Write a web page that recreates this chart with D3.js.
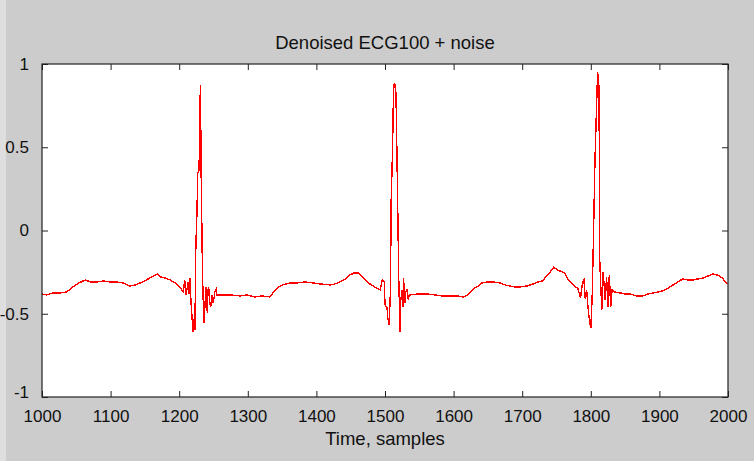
<!DOCTYPE html>
<html>
<head>
<meta charset="utf-8">
<script src="https://cdn.jsdelivr.net/npm/d3@7"></script>
<style>
  html, body { margin: 0; padding: 0; background: #cccccc; }
  svg { display: block; }
  text { font-family: "Liberation Sans", Arial, sans-serif; fill: #111; }
</style>
</head>
<body>
<svg id="chart" width="754" height="461"></svg>
<script>
const titleText = "Denoised ECG100 + noise";
const xLabelText = "Time, samples";
const xTicks = [1000, 1100, 1200, 1300, 1400, 1500, 1600, 1700, 1800, 1900, 2000];
const yTicks = [-1, -0.5, 0, 0.5, 1];
const yTickLabels = ["-1", "-0.5", "0", "0.5", "1"];
const xDomain = [1000, 2000];
const yDomain = [-1, 1];

// sample index
const samples = [
  1000,1007,1016,1026,1036,1045,1054,1063,1071,1080,1090,1099,1109,1118,1128,1136,1143,1150,1157,1163,
  1168,1173,1179,1187,1194,1201,1206,1208,1210,1213,1214,1216,1217,1219,1220,1222,1223,1224,1226,1227,
  1229,1230,1231,1232,1234,1236,1238,1239,1241,1242,1243,1245,1246,1248,1249,1251,1252,1254,1255,1259,
  1274,1289,1299,1310,1321,1332,1340,1345,1351,1362,1372,1383,1395,1405,1420,1427,1434,1442,1449,1455,
  1461,1465,1471,1478,1485,1493,1496,1499,1500,1503,1504,1506,1508,1509,1511,1512,1513,1514,1516,1518,
  1520,1522,1523,1525,1526,1527,1529,1530,1532,1534,1535,1536,1548,1561,1573,1583,1595,1605,1614,1620,
  1624,1631,1636,1641,1649,1657,1668,1675,1682,1690,1697,1707,1716,1723,1730,1735,1741,1746,1751,1755,
  1762,1767,1770,1777,1781,1785,1788,1790,1792,1794,1796,1798,1800,1802,1804,1806,1809,1810,1812,1813,
  1816,1818,1821,1823,1825,1827,1829,1831,1835,1843,1850,1857,1867,1876,1883,1891,1898,1905,1913,1920,
  1927,1934,1942,1949,1956,1964,1971,1978,1984,1988,1993,1996,2000
];
// signal amplitude at each sample
const amplitude = [
  -0.381,-0.387,-0.375,-0.375,-0.369,-0.339,-0.315,-0.297,-0.309,-0.309,-0.303,-0.309,-0.309,-0.315,-0.333,-0.327,-0.315,-0.303,-0.285,-0.273,
  -0.261,-0.279,-0.285,-0.297,-0.315,-0.339,-0.369,-0.297,-0.387,-0.309,-0.381,-0.285,-0.417,-0.537,-0.610,-0.525,-0.598,-0.135,0.123,0.345,
  0.363,0.724,0.874,0.345,-0.279,-0.556,-0.417,-0.339,-0.495,-0.357,-0.339,-0.447,-0.459,-0.387,-0.435,-0.399,-0.369,-0.351,-0.387,-0.387,
  -0.387,-0.393,-0.387,-0.399,-0.393,-0.399,-0.357,-0.339,-0.327,-0.315,-0.315,-0.309,-0.315,-0.321,-0.327,-0.321,-0.309,-0.291,-0.267,-0.255,
  -0.255,-0.273,-0.297,-0.321,-0.339,-0.357,-0.297,-0.309,-0.447,-0.465,-0.525,-0.568,-0.357,0.183,0.483,0.742,0.874,0.886,0.826,0.303,
  -0.279,-0.610,-0.417,-0.357,-0.459,-0.285,-0.435,-0.369,-0.357,-0.417,-0.393,-0.387,-0.381,-0.381,-0.387,-0.393,-0.393,-0.393,-0.399,-0.387,
  -0.375,-0.345,-0.333,-0.315,-0.309,-0.309,-0.315,-0.327,-0.333,-0.339,-0.339,-0.333,-0.321,-0.309,-0.303,-0.273,-0.249,-0.219,-0.237,-0.243,
  -0.255,-0.297,-0.309,-0.339,-0.345,-0.405,-0.309,-0.297,-0.411,-0.357,-0.465,-0.537,-0.586,-0.399,-0.015,0.405,0.832,0.952,0.856,-0.177,
  -0.477,-0.249,-0.417,-0.279,-0.459,-0.267,-0.459,-0.357,-0.369,-0.375,-0.381,-0.381,-0.393,-0.393,-0.381,-0.375,-0.369,-0.363,-0.345,-0.327,
  -0.309,-0.291,-0.297,-0.297,-0.291,-0.285,-0.273,-0.261,-0.267,-0.273,-0.291,-0.309,-0.321
];

const W = 754, H = 461;
const margin = {left: 42, top: 64, right: 26, bottom: 64};
const iw = W - margin.left - margin.right;   // 686
const ih = H - margin.top - margin.bottom;   // 333

const svg = d3.select("#chart");
svg.append("rect").attr("x", 0).attr("y", 0).attr("width", W).attr("height", H).attr("fill", "#cccccc");
svg.append("rect").attr("x", 0).attr("y", 0).attr("width", 6).attr("height", H).attr("fill", "#dedede");

const g = svg.append("g").attr("transform", `translate(${margin.left},${margin.top})`);
g.append("rect").attr("width", iw).attr("height", ih).attr("fill", "#ffffff");

const x = d3.scaleLinear().domain(xDomain).range([0, iw]);
const y = d3.scaleLinear().domain(yDomain).range([ih, 0]);

const data = samples.map((s, i) => ({s, v: amplitude[i]}));
const line = d3.line().x(d => x(d.s)).y(d => y(d.v));

const clipId = "plotclip";
g.append("clipPath").attr("id", clipId).append("rect").attr("width", iw).attr("height", ih);
g.append("path").datum(data)
  .attr("clip-path", `url(#${clipId})`)
  .attr("d", line)
  .attr("fill", "none")
  .attr("stroke", "#ff0000")
  .attr("stroke-width", 1.4)
  .attr("shape-rendering", "crispEdges")
  .attr("stroke-linejoin", "miter");

function styleAxis(sel) {
  sel.select(".domain").remove();
  sel.selectAll(".tick line").attr("stroke", "#222").attr("stroke-width", 1);
  sel.selectAll(".tick text").style("font-size", "17px").attr("fill", "#111");
}

const xb = g.append("g").attr("transform", `translate(0,${ih})`)
  .call(d3.axisBottom(x).tickValues(xTicks).tickSize(-6).tickPadding(13).tickFormat(d3.format("d")));
styleAxis(xb);
const xt = g.append("g")
  .call(d3.axisTop(x).tickValues(xTicks).tickSize(-6).tickFormat(""));
styleAxis(xt);
const yl = g.append("g")
  .call(d3.axisLeft(y).tickValues(yTicks).tickSize(-6).tickPadding(13).tickFormat((d, i) => yTickLabels[i]));
styleAxis(yl);
yl.selectAll(".tick text").filter(d => d === -1).attr("dy", "0.05em");
const yr = g.append("g").attr("transform", `translate(${iw},0)`)
  .call(d3.axisRight(y).tickValues(yTicks).tickSize(-6).tickFormat(""));
styleAxis(yr);

g.append("rect").attr("width", iw).attr("height", ih)
  .attr("fill", "none").attr("stroke", "#222").attr("stroke-width", 1.2);

svg.append("text").attr("x", margin.left + iw / 2).attr("y", 49)
  .attr("text-anchor", "middle").style("font-size", "18.5px").text(titleText);
svg.append("text").attr("x", margin.left + iw / 2).attr("y", 445)
  .attr("text-anchor", "middle").style("font-size", "18.5px").text(xLabelText);
</script>
</body>
</html>
